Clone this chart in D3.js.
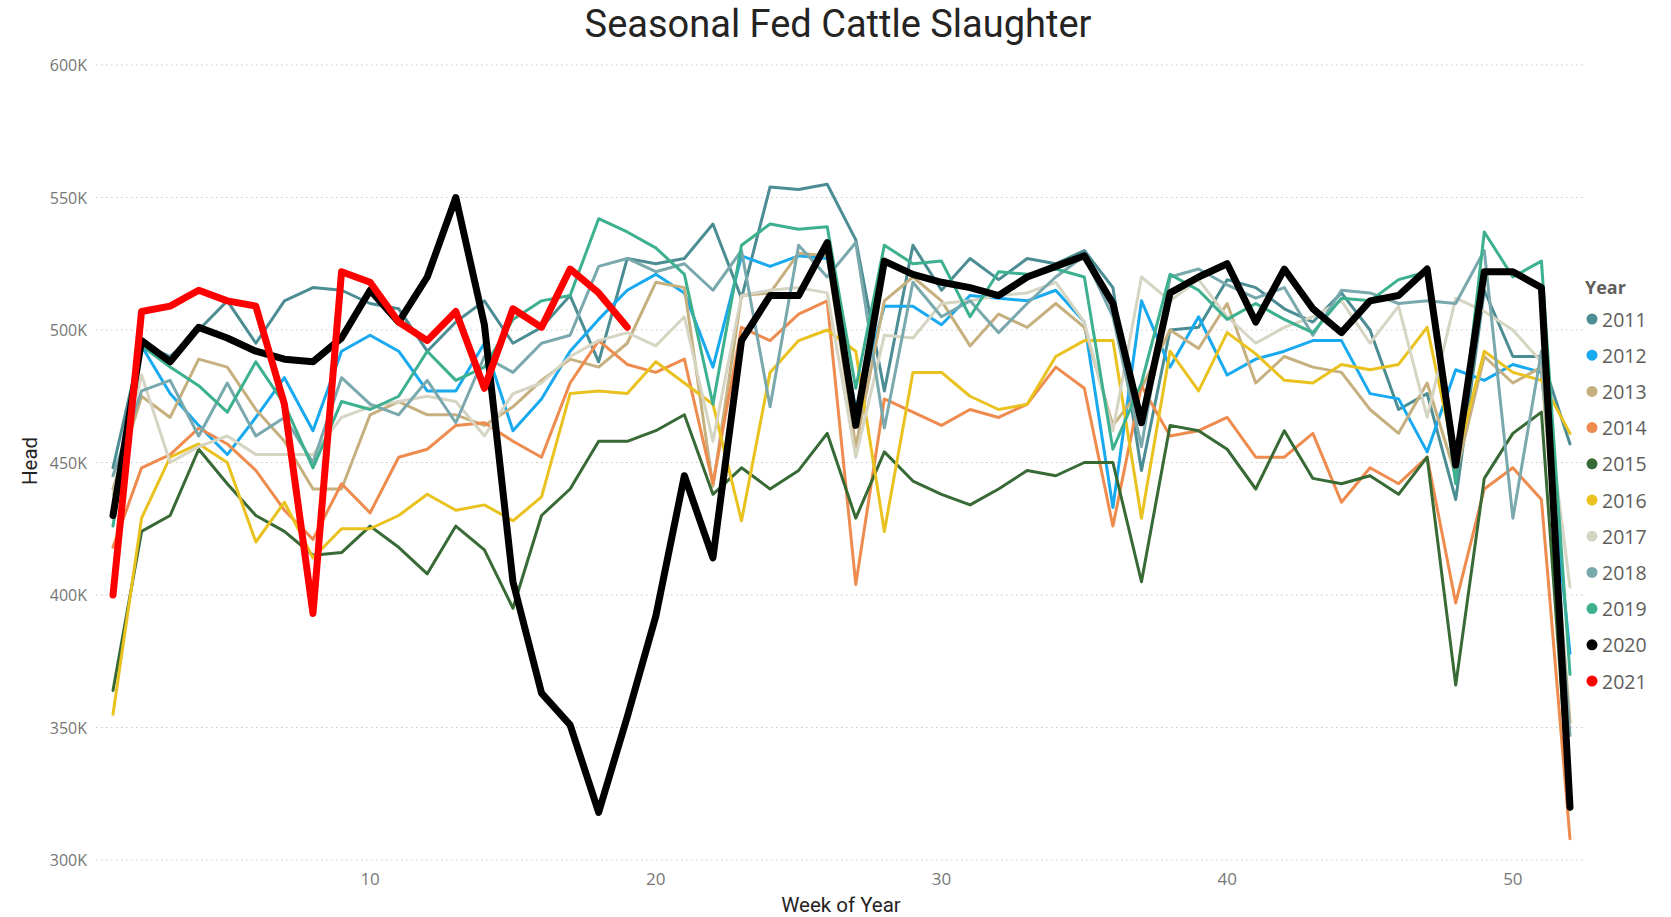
<!DOCTYPE html>
<html lang="en">
<head>
<meta charset="UTF-8">
<title>Seasonal Fed Cattle Slaughter</title>
<script src="https://cdnjs.cloudflare.com/ajax/libs/d3/7.8.5/d3.min.js"></script>
<style>
    body { margin: 0; background: #fff; }
    svg { display: block; }
    .axis-label { font-family: "Open Sans", sans-serif; font-size: 16px; fill: #777; }
    .axis-title { font-family: Roboto, sans-serif; font-size: 20.5px; fill: #252423; }
    .legend-text { font-family: "Open Sans", sans-serif; font-size: 19.5px; fill: #605E5C; }
</style>
</head>
<body>
<div id="chart"></div>
<script>
// week numbers (x categories)
const weeks = [1, 2, 3, 4, 5, 6, 7, 8, 9, 10, 11, 12, 13, 14, 15, 16, 17, 18, 19, 20,
    21, 22, 23, 24, 25, 26, 27, 28, 29, 30, 31, 32, 33, 34, 35, 36, 37, 38, 39, 40,
    41, 42, 43, 44, 45, 46, 47, 48, 49, 50, 51, 52];

const yTicks = [300, 350, 400, 450, 500, 550, 600];   // thousands of head
const xTicks = [10, 20, 30, 40, 50];

const years = ["2011", "2012", "2013", "2014", "2015", "2016", "2017", "2018", "2019", "2020", "2021"];
const colors = ["#4C8D94", "#18A9EF", "#C6B07F", "#EE8B4E", "#386A35", "#E9C21F", "#D6D4C2", "#79A8AD", "#3CB08F", "#000000", "#FF0000"];

// weekly slaughter, thousand head
const head2011 = [448, 495, 490, 500, 511, 495, 511, 516, 515, 510, 508, 492, 503, 511, 495, 501, 513, 488, 527, 525,
    527, 540, 512, 554, 553, 555, 534, 477, 532, 515, 527, 519, 527, 525, 530, 516, 447, 500, 501, 519,
    516, 508, 503, 514, 500, 470, 476, 436, 515, 490, 490, 457];
const head2012 = [432, 494, 476, 464, 453, 467, 482, 462, 492, 498, 492, 477, 477, 495, 462, 474, 492, 504, 515, 521,
    514, 486, 528, 524, 528, 527, 470, 509, 509, 502, 513, 512, 511, 515, 503, 433, 511, 486, 505, 483,
    489, 492, 496, 496, 476, 474, 454, 485, 481, 487, 484, 378];
const head2013 = [440, 475, 467, 489, 486, 470, 458, 440, 440, 468, 473, 468, 468, 464, 471, 481, 489, 486, 495, 518,
    516, 441, 513, 514, 529, 528, 456, 511, 520, 511, 494, 506, 501, 510, 501, 464, 478, 500, 493, 510,
    480, 490, 486, 484, 470, 461, 480, 445, 490, 480, 486, 352];
const head2014 = [418, 448, 453, 463, 457, 447, 432, 421, 442, 431, 452, 455, 464, 465, 458, 452, 480, 496, 487, 484,
    489, 442, 501, 496, 506, 511, 404, 474, 469, 464, 470, 467, 472, 486, 478, 426, 479, 460, 462, 467,
    452, 452, 461, 435, 448, 442, 452, 397, 440, 448, 436, 308];
const head2015 = [364, 424, 430, 455, 442, 430, 424, 415, 416, 426, 418, 408, 426, 417, 395, 430, 440, 458, 458, 462,
    468, 438, 448, 440, 447, 461, 429, 454, 443, 438, 434, 440, 447, 445, 450, 450, 405, 464, 462, 455,
    440, 462, 444, 442, 445, 438, 452, 366, 444, 461, 469, 319];
const head2016 = [355, 429, 452, 457, 450, 420, 435, 414, 425, 425, 430, 438, 432, 434, 428, 437, 476, 477, 476, 488,
    480, 472, 428, 484, 496, 500, 492, 424, 484, 484, 475, 470, 472, 490, 496, 496, 429, 492, 477, 499,
    491, 481, 480, 487, 485, 487, 501, 450, 492, 484, 481, 461];
const head2017 = [438, 483, 450, 456, 460, 453, 453, 453, 467, 471, 473, 475, 473, 460, 476, 480, 490, 496, 499, 494,
    505, 458, 513, 515, 516, 514, 452, 498, 497, 510, 511, 513, 514, 518, 503, 462, 520, 511, 519, 505,
    495, 501, 505, 511, 495, 509, 467, 512, 507, 500, 488, 403];
const head2018 = [445, 477, 481, 460, 480, 460, 467, 450, 482, 472, 468, 481, 465, 490, 484, 495, 498, 524, 527, 522,
    525, 515, 530, 471, 532, 520, 533, 463, 518, 505, 511, 499, 510, 520, 528, 505, 456, 520, 523, 517,
    512, 516, 498, 515, 514, 510, 511, 510, 530, 429, 492, 347];
const head2019 = [426, 494, 486, 479, 469, 488, 472, 448, 473, 470, 475, 492, 481, 486, 504, 511, 513, 542, 537, 531,
    521, 472, 532, 540, 538, 539, 478, 532, 525, 526, 505, 522, 521, 523, 520, 455, 480, 521, 515, 504,
    510, 504, 499, 512, 511, 519, 522, 442, 537, 520, 526, 370];
const head2020 = [430, 496, 488, 501, 497, 492, 489, 488, 497, 515, 503, 520, 550, 502, 405, 363, 351, 318, 354, 392,
    445, 414, 496, 513, 513, 533, 464, 526, 521, 518, 516, 513, 520, 524, 528, 510, 465, 514, 520, 525,
    503, 523, 508, 499, 511, 513, 523, 449, 522, 522, 516, 320];
const head2021 = [400, 507, 509, 515, 511, 509, 472, 393, 522, 518, 503, 496, 507, 478, 508, 501, 523, 514, 501];

const allSeries = [head2011, head2012, head2013, head2014, head2015, head2016, head2017, head2018, head2019, head2020, head2021];

const width = 1671, height = 917;

const svg = d3.select("#chart").append("svg")
    .attr("width", width)
    .attr("height", height);

const x = d3.scaleLinear().domain([1, 52]).range([113, 1570]);
const y = d3.scaleLinear().domain([300, 600]).range([860, 65]);

// title
svg.append("text")
    .attr("x", 838).attr("y", 24)
    .attr("text-anchor", "middle")
    .attr("dominant-baseline", "central")
    .style("font-family", "Roboto, sans-serif")
    .style("font-size", "38px")
    .style("font-weight", 400)
    .style("fill", "#252423")
    .text("Seasonal Fed Cattle Slaughter");

// gridlines
svg.append("g").selectAll("line")
    .data(yTicks)
    .enter().append("line")
    .attr("x1", 96).attr("x2", 1586)
    .attr("y1", d => y(d)).attr("y2", d => y(d))
    .attr("stroke", "#C8C8C8")
    .attr("stroke-width", 1)
    .attr("stroke-dasharray", "1.5,3.5");

// y labels
svg.append("g").selectAll("text")
    .data(yTicks)
    .enter().append("text")
    .attr("class", "axis-label")
    .attr("x", 87).attr("y", d => y(d))
    .attr("text-anchor", "end")
    .attr("dominant-baseline", "central")
    .text(d => d + "K");

// x labels
svg.append("g").selectAll("text")
    .data(xTicks)
    .enter().append("text")
    .attr("class", "axis-label")
    .style("font-size", "17px")
    .attr("x", d => x(d)).attr("y", 878)
    .attr("text-anchor", "middle")
    .attr("dominant-baseline", "central")
    .text(d => d);

svg.append("text")
    .attr("class", "axis-title")
    .attr("x", 841).attr("y", 905)
    .attr("text-anchor", "middle")
    .attr("dominant-baseline", "central")
    .text("Week of Year");

svg.append("text")
    .attr("class", "axis-title")
    .attr("transform", "translate(30,461) rotate(-90)")
    .attr("text-anchor", "middle")
    .attr("dominant-baseline", "central")
    .text("Head");

// lines
const line = d3.line()
    .x((d, i) => x(weeks[i]))
    .y(d => y(d));

svg.append("g").selectAll("path")
    .data(allSeries)
    .enter().append("path")
    .attr("d", d => line(d))
    .attr("fill", "none")
    .attr("stroke", (d, i) => colors[i])
    .attr("stroke-width", (d, i) => i >= 9 ? 7 : 3)
    .attr("stroke-linejoin", "round")
    .attr("stroke-linecap", "round");

// legend
const legend = svg.append("g");
legend.append("text")
    .attr("x", 1585).attr("y", 287)
    .attr("dominant-baseline", "central")
    .style("font-family", "'Open Sans', sans-serif")
    .style("font-size", "18px")
    .style("font-weight", 700)
    .style("fill", "#605E5C")
    .text("Year");

const item = legend.selectAll(".item")
    .data(years)
    .enter().append("g")
    .attr("class", "item")
    .attr("transform", (d, i) => `translate(1592,${319 + i * 36.2})`);

item.append("circle")
    .attr("r", 5.5)
    .attr("fill", (d, i) => colors[i]);

item.append("text")
    .attr("class", "legend-text")
    .attr("x", 10)
    .attr("dominant-baseline", "central")
    .text(d => d);
</script>
</body>
</html>
